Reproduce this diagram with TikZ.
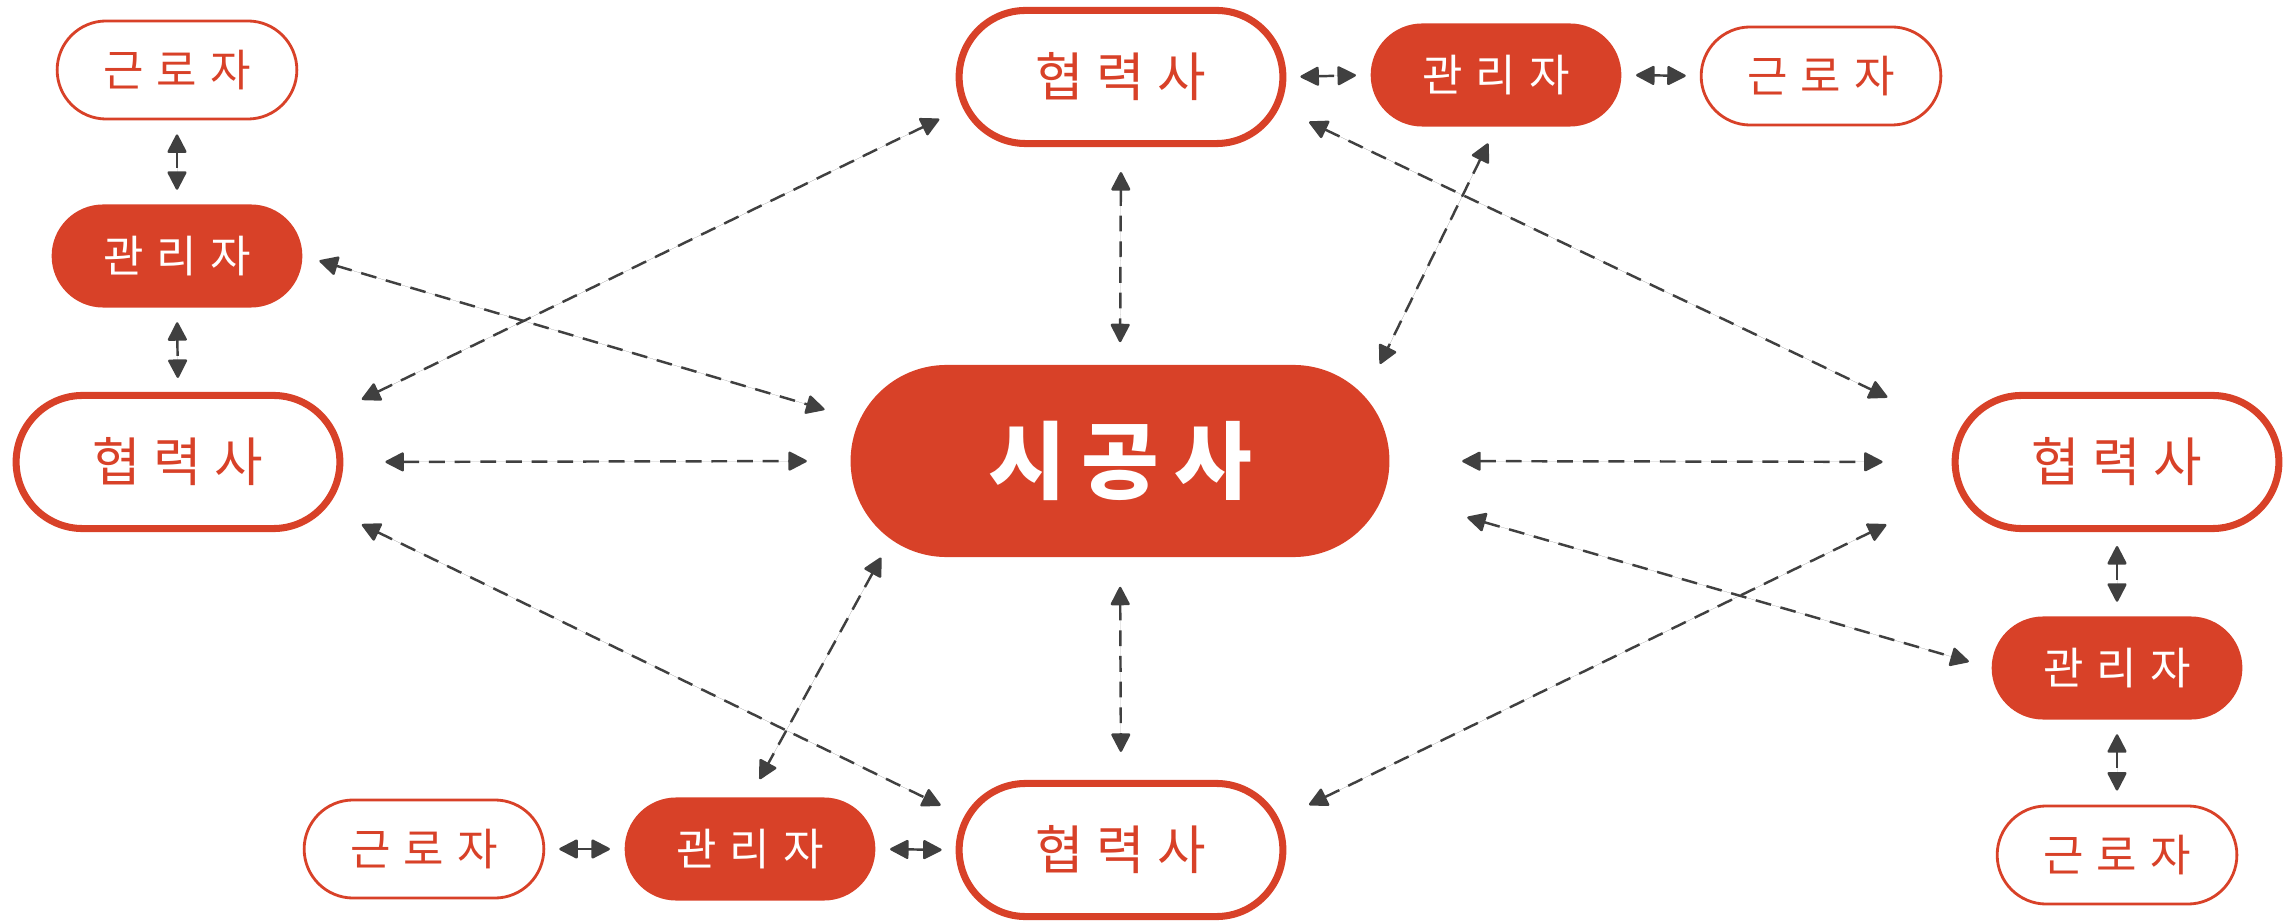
\documentclass[tikz,border=0pt]{standalone}
\usepackage{fontspec}
\newfontfamily\kr[LetterSpace=18]{Noto Sans CJK KR}
\newfontfamily\krmid[LetterSpace=24]{Noto Sans CJK KR}
\newfontfamily\krwide[LetterSpace=30]{Noto Sans CJK KR}
\usetikzlibrary{shapes.misc}
\usetikzlibrary{arrows.meta}
\definecolor{krred}{RGB}{216,65,40}
\definecolor{linkgray}{RGB}{64,64,64}

\tikzset{
  hub/.style={rounded rectangle, fill=krred, text=white,
    minimum width=5.62cm, minimum height=1.92cm,
    font=\kr\bfseries\fontsize{24}{28}\selectfont},
  partner/.style={rounded rectangle, draw=krred, line width=2pt, fill=white, text=krred,
    minimum width=3.47cm, minimum height=1.33cm,
    font=\krmid\fontsize{15}{18}\selectfont},
  manager/.style={rounded rectangle, fill=krred, text=white,
    minimum width=2.74cm, minimum height=1.03cm,
    font=\krwide\fontsize{12.5}{15}\selectfont},
  worker/.style={rounded rectangle, draw=krred, line width=0.8pt, fill=white, text=krred,
    minimum width=2.63cm, minimum height=0.98cm,
    font=\krwide\fontsize{12.5}{15}\selectfont},
  link/.style={{Triangle[length=2mm,width=2mm,round]}-{Triangle[length=2mm,width=2mm,round]},
    draw=linkgray, fill=linkgray, line width=0.7pt, dash pattern=on 4.5pt off 2.8pt,
    shorten <=1.4mm, shorten >=1.4mm}
}

\begin{document}
\begin{tikzpicture}[x=0.01cm,y=-0.01cm]
\useasboundingbox (0,0) rectangle (2295,922);

% center
\node[hub] (sigong) at (1120,461) {시공사};

% left column
\node[worker]  (workL) at (177,70)  {근로자};
\node[manager] (gwanL) at (177,256) {관리자};
\node[partner] (partL) at (178,462) {협력사};

% top row
\node[partner] (partT) at (1121,77) {협력사};
\node[manager] (gwanT) at (1496,75) {관리자};
\node[worker]  (workT) at (1821,76) {근로자};

% bottom row
\node[worker]  (workB) at (424,849)  {근로자};
\node[manager] (gwanB) at (750,849)  {관리자};
\node[partner] (partB) at (1121,850) {협력사};

% right column
\node[partner] (partR) at (2117,462) {협력사};
\node[manager] (gwanR) at (2117,668) {관리자};
\node[worker]  (workR) at (2117,855) {근로자};

% short links
\draw[link] (workL.south) -- (gwanL.north);
\draw[link] (gwanL.south) -- (partL.north);
\draw[link] (partT.east) -- (gwanT.west);
\draw[link] (gwanT.east) -- (workT.west);
\draw[link] (workB.east) -- (gwanB.west);
\draw[link] (gwanB.east) -- (partB.west);
\draw[link] (partR.south) -- (gwanR.north);
\draw[link] (gwanR.south) -- (workR.north);

% long links
\draw[link, shorten <=1.7mm, shorten >=3.6mm] (gwanL.east) -- (sigong.171);
\draw[link, shorten <=3.9mm, shorten >=2.6mm] (partL.17.5) -- (partT.191.7);
\draw[link, shorten <=4.2mm, shorten >=4.3mm] (partL.east) -- (sigong.west);
\draw[link, shorten <=3.9mm, shorten >=2.6mm] (partL.-17.5) -- (partB.168.3);
\draw[link, shorten <=2.5mm, shorten >=2.2mm] (partT.south) -- (sigong.north);
\draw[link, shorten <=1.8mm, shorten >=3.5mm] (gwanT.south) -- (sigong.15);
\draw[link, shorten <=3.3mm, shorten >=7.9mm] (partT.-11.2) -- (partR.169.9);
\draw[link, shorten <=7.2mm, shorten >=6.9mm] (sigong.east) -- (partR.west);
\draw[link, shorten <=8.6mm, shorten >=2.3mm] (sigong.-7.4) -- (gwanR.west);
\draw[link, shorten <=3.3mm, shorten >=7.9mm] (partB.11.2) -- (partR.190.1);
\draw[link, shorten <=2.9mm, shorten >=2.8mm] (sigong.south) -- (partB.north);
\draw[link, shorten <=2.0mm, shorten >=2.0mm] (sigong.199) -- (gwanB.north);
\end{tikzpicture}
\end{document}
